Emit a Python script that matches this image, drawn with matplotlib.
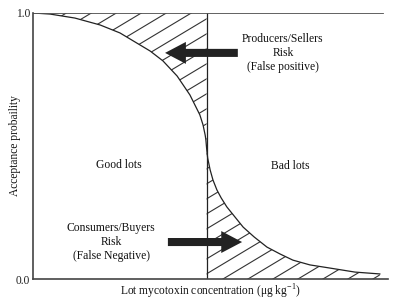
import numpy as np
import matplotlib
matplotlib.use("Agg")
import matplotlib.pyplot as plt

plt.rcParams['font.family'] = ['Liberation Serif', 'DejaVu Serif']
plt.rcParams['mathtext.fontset'] = 'custom'
plt.rcParams['mathtext.rm'] = 'Liberation Serif'

# OC curve (x in arbitrary concentration units, y acceptance probability)
curve_x = [0.00, 0.48, 1.18, 1.89, 2.45, 3.30, 3.66, 4.06, 4.42, 4.70, 4.79, 4.85, 4.87,
           4.89, 4.92, 4.99, 5.07, 5.18, 5.30, 5.46, 5.69, 5.92, 6.23, 6.59, 6.96,
           7.32, 7.80, 8.37, 9.07, 9.77]
curve_y = [1.000, 0.996, 0.981, 0.955, 0.925, 0.857, 0.820, 0.763, 0.692, 0.617, 0.579,
           0.541, 0.523, 0.492, 0.455, 0.410, 0.372, 0.335, 0.305, 0.271, 0.233, 0.195,
           0.158, 0.120, 0.094, 0.071, 0.053, 0.041, 0.026, 0.019]
limit_x = 4.89
top_end = 9.86
ytick_vals = [0.0, 1.0]
ytick_labels = ['0.0', '1.0']

fig = plt.figure(figsize=(4.07, 3.03), dpi=100)
ax = fig.add_axes([0.0811, 0.0792, 0.8722, 0.8779])
ax.set_xlim(0, 10)
ax.set_ylim(0, 1)

cx = np.array(curve_x)
cy = np.array(curve_y)
left = cx <= limit_x
right = cx >= limit_x

# hatched regions (invisible fills used as clip paths)
poly_l = ax.fill_between(cx[left], cy[left], 1.0, facecolor='none', edgecolor='none')
poly_r = ax.fill_between(cx[right], 0.0, cy[right], facecolor='none', edgecolor='none')

slope = 0.6 * (35.5 / 266.0)   # hatch slope in data units
step = 15.0 / 266.0
xs = np.array([-1.0, 11.0])
for b in np.arange(-1.5, 1.5, step):
    for poly in (poly_l, poly_r):
        ln, = ax.plot(xs, b + slope * xs, color='#333333', lw=0.8)
        ln.set_clip_path(poly.get_paths()[0], ax.transData)

ax.plot(cx, cy, color='#222222', lw=0.9)
ax.plot([limit_x, limit_x], [0, 1], color='#222222', lw=0.9)
ax.plot([0, top_end], [1, 1], color='#555555', lw=1.3)

for s in ['top', 'right']:
    ax.spines[s].set_visible(False)
for s in ['left', 'bottom']:
    ax.spines[s].set_color('#444444')
    ax.spines[s].set_linewidth(1.2)

ax.set_xticks([])
ax.set_yticks(ytick_vals)
ax.set_yticklabels(ytick_labels, fontsize=8.3)
ax.tick_params(axis='y', length=0, pad=2, colors='#222222')

ax.set_ylabel('Acceptance probaility', fontsize=8.3, labelpad=-4, color='#111111')
ax.set_xlabel(r'Lot mycotoxin concentration (μg kg$^{\mathregular{-1}}$)', fontsize=8.3,
              labelpad=3, color='#111111')

txt = dict(fontsize=8.4, ha='center', va='center', color='#111111', linespacing=1.22)
ax.text(7.04, 0.848, 'Producers/Sellers\nRisk\n(False positive)', **txt)
ax.text(2.42, 0.43, 'Good lots', **txt)
ax.text(7.24, 0.425, 'Bad lots', **txt)
ax.text(2.2, 0.14, 'Consumers/Buyers\nRisk\n(False Negative)', **txt)

arrow = dict(arrowstyle='simple,head_width=1.58,head_length=1.5,tail_width=0.58',
             mutation_scale=10, color='#222222', shrinkA=0, shrinkB=0, lw=0)
ax.annotate('', xy=(3.72, 0.85), xytext=(5.77, 0.85), arrowprops=arrow)
ax.annotate('', xy=(5.89, 0.139), xytext=(3.80, 0.139), arrowprops=arrow)

fig.savefig('out.png', dpi=100)
